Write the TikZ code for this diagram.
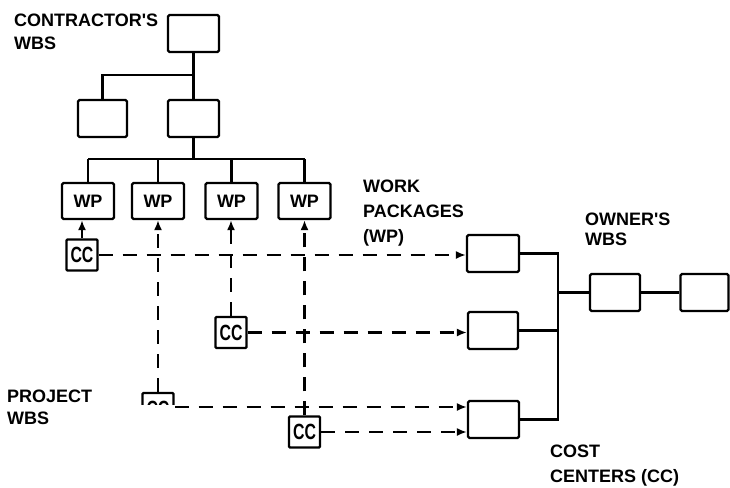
\documentclass[tikz,border=0pt]{standalone}
\usepackage{fontspec}
\setmainfont{Liberation Sans}
\newfontfamily\lbfont{Liberation Sans}
\usetikzlibrary{arrows.meta,calc}
\begin{document}
\begin{tikzpicture}[x=1pt,y=-1pt,
  box/.style={draw,line width=2.2pt,rounded corners=1.5pt,inner sep=0pt,minimum width=51pt,minimum height=37pt},
  wpbox/.style={box,minimum width=52pt,minimum height=36pt,font=\lbfont\bfseries\fontsize{18}{18}\selectfont},
  ccbox/.style={draw,line width=2.2pt,rounded corners=1pt,inner sep=0pt,minimum width=31pt,minimum height=31pt,
    font=\lbfont\bfseries\fontsize{22}{22}\selectfont},
  lbl/.style={anchor=base west,inner sep=0pt,font=\lbfont\bfseries\fontsize{18}{18}\selectfont},
  link/.style={line width=2.2pt},
  dashlink/.style={line width=2.1pt,dash pattern=on 14pt off 10pt},
  tip/.style={-{Latex[length=10pt,width=8pt]}}
]
\useasboundingbox (0,0) rectangle (730,487);
% contractor's WBS tree
\node[box] (top) at (193.5,33.5) {};
\node[box,minimum width=49pt] (l2a) at (102.5,118.5) {};
\node[box] (l2b) at (193.5,118.5) {};
\node[wpbox] (wp1) at (88,201) {WP};
\node[wpbox] (wp2) at (158,201) {WP};
\node[wpbox] (wp3) at (231.5,201) {WP};
\node[wpbox] (wp4) at (304.5,201) {WP};
\coordinate (bus1) at (193.5,75);
\coordinate (bus2) at (193.5,159);
\draw[link] (top.south) -- (bus1) -| (l2a.north);
\draw[link] (bus1) -- (l2b.north);
\draw[link] (l2b.south) -- (bus2);
\draw[link] (bus2 -| wp1.north) -- (bus2 -| wp4.north);
\foreach \w in {wp1,wp2,wp3,wp4} \draw[link] (bus2 -| \w.north) -- (\w.north);
% cost centers
\node[ccbox] (cc1) at (82,255) {\scalebox{0.72}[1]{CC}};
\node[ccbox] (cc2) at (231,332.5) {\scalebox{0.72}[1]{CC}};
\node[ccbox] (cc3) at (304.5,432) {\scalebox{0.72}[1]{CC}};
\node[ccbox] (cc4) at (158,408.5) {\scalebox{0.72}[1]{CC}};
% owner's WBS
\node[box,minimum width=52pt] (oa) at (493,253.5) {};
\node[box,minimum width=50pt] (ob) at (493,330.5) {};
\node[box] (oc) at (493.5,419.5) {};
\node[box,minimum width=50pt] (od) at (615,292.5) {};
\node[box,minimum width=48pt] (oe) at (704.5,292.5) {};
\coordinate (j) at (558,292.5);
\draw[link] (oa.east) -| (j);
\draw[link] (oc.east) -| (j);
\draw[link] (ob.east) -- (ob.east -| j);
\draw[link] (j) -- (od.west);
\draw[link] (od.east) -- (oe.west);
% CC to WP links
\draw[link,tip] (cc1.north) -- (wp1.south -| cc1.north);
\draw[dashlink,tip] (cc4.north) -- (wp2.south);
\draw[dashlink,tip] (cc2.north) -- (wp3.south -| cc2.north);
\draw[dashlink,tip] (cc3.north) -- (wp4.south);
% CC to owner's WBS links
\draw[dashlink,tip] (cc1.east) -- (cc1.east -| oa.west);
\draw[dashlink,tip] (cc2.east) -- (cc2.east -| ob.west);
\draw[dashlink,tip] ($(cc4.east)+(0,-1.5)$) -- ($(cc4.east -| oc.west)+(0,-1.5)$);
\draw[dashlink,tip] (cc3.east) -- (cc3.east -| oc.west);
% white patch over the lower-left corner
\fill[white] (0,405) rectangle (175,487);
% labels
\node[lbl] (t1) at (14,27) {CONTRACTOR'S};
\node[lbl] (t2) at (14,50) {WBS};
\node[lbl] (t3) at (363,192) {WORK};
\node[lbl] (t4) at (363,217) {PACKAGES};
\node[lbl] (t5) at (363,242) {(WP)};
\node[lbl] (t6) at (585,225) {OWNER'S};
\node[lbl] (t7) at (585,245) {WBS};
\node[lbl] (t8) at (7,402) {PROJECT};
\node[lbl] (t9) at (7,424) {WBS};
\node[lbl] (t10) at (550,457) {COST};
\node[lbl] (t11) at (550,482) {CENTERS (CC)};
\end{tikzpicture}
\end{document}
